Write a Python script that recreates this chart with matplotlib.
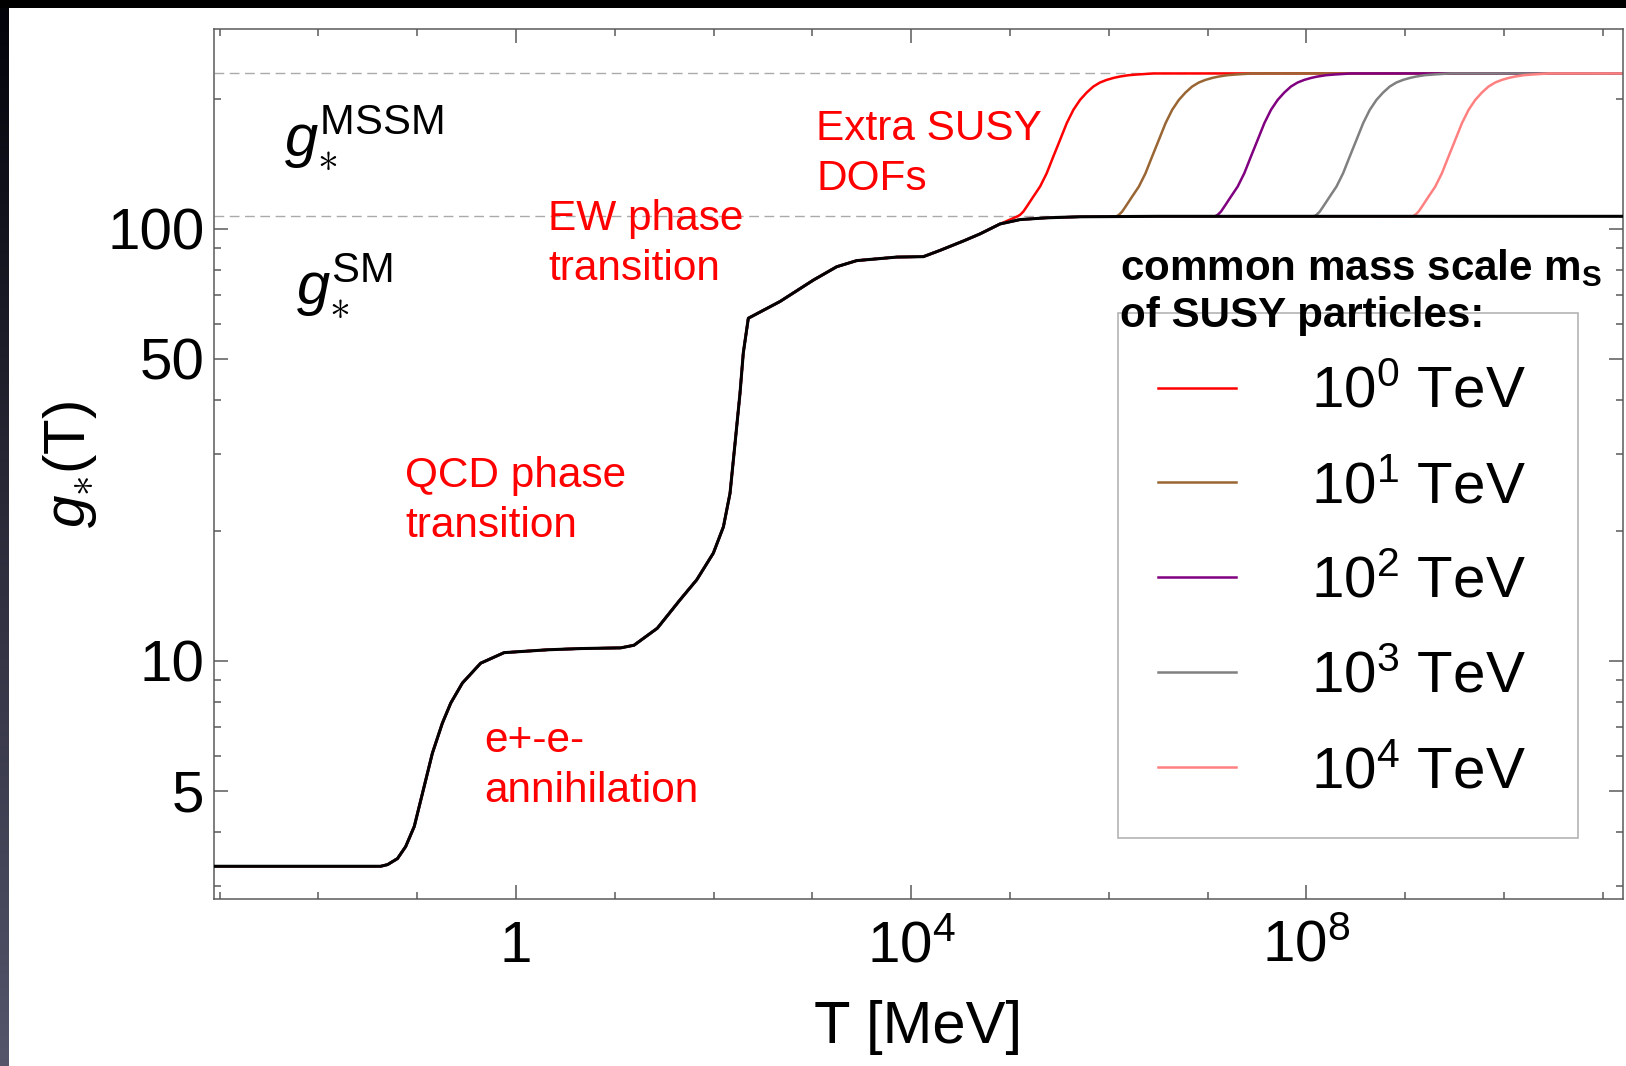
import numpy as np
import matplotlib
matplotlib.use('Agg')
import matplotlib.pyplot as plt
from matplotlib.patches import Rectangle
from matplotlib.ticker import FixedLocator, NullFormatter

plt.rcParams['font.family'] = ['Liberation Sans', 'DejaVu Sans']
plt.rcParams['mathtext.fontset'] = 'custom'
plt.rcParams['mathtext.rm'] = 'Liberation Sans'
plt.rcParams['mathtext.it'] = 'Liberation Sans:italic'
plt.rcParams['mathtext.bf'] = 'Liberation Sans:bold'

# ---------------- data ----------------
# Standard Model g_*(T); T in MeV given as log10(T)
sm_log10_T = [-3.2, -1.37, -1.30, -1.20, -1.117, -1.03, -0.93, -0.847, -0.746, -0.661,
              -0.543, -0.358, -0.121, 0.317, 0.655, 1.06, 1.194, 1.43, 1.66, 1.829,
              1.997, 2.099, 2.166, 2.217, 2.267, 2.30, 2.351, 2.672, 3.01, 3.246,
              3.448, 3.853, 4.123, 4.29, 4.528, 4.696, 4.899, 5.10, 5.37, 5.71,
              6.5, 11.5]
sm_gstar = [3.34, 3.34, 3.37, 3.48, 3.71, 4.13, 5.11, 6.10, 7.16, 7.97,
            8.87, 9.86, 10.43, 10.59, 10.66, 10.70, 10.85, 11.88, 13.82, 15.38,
            17.73, 20.4, 24.4, 31.9, 41.6, 51.5, 62.0, 67.8, 76.0, 81.6,
            84.3, 85.9, 86.1, 89.0, 93.6, 97.2, 102.5, 104.9, 105.9, 106.5,
            106.75, 106.75]

# Rise of g_* when the SUSY partners become relativistic, vs log10(T / m_S)
susy_log10_T_over_mS = [-0.93, -0.90, -0.865, -0.83, -0.764, -0.696, -0.629, -0.562, -0.494,
                        -0.426, -0.359, -0.291, -0.224, -0.157, -0.09, -0.022, 0.05, 0.113,
                        0.20, 0.282, 0.451, 5.5]
susy_gstar = [106.6, 107.5, 109.5, 112.5, 118.6, 125.1, 134.3, 146.8, 160.4,
              175.4, 188.3, 198.6, 206.5, 213.2, 217.8, 220.9, 223.3, 224.9,
              226.5, 227.3, 228.6, 228.75]

mass_scale_TeV = [1, 10, 100, 1000, 10000]
mass_labels = [r'$10^{0}$ TeV', r'$10^{1}$ TeV', r'$10^{2}$ TeV', r'$10^{3}$ TeV', r'$10^{4}$ TeV']
mass_colors = ['#ff0000', '#996633', '#800080', '#808080', '#ff8080']

g_sm_limit = 106.75
g_mssm_limit = 228.75

x_major = [1, 1e4, 1e8]
x_major_labels = ['1', r'$10^{4}$', r'$10^{8}$']
x_minor = [1e-3, 1e-2, 1e-1, 1e1, 1e2, 1e3, 1e5, 1e6, 1e7, 1e9, 1e10, 1e11]
y_major = [5, 10, 50, 100]
y_major_labels = ['5', '10', '50', '100']
y_minor = [3, 4, 6, 7, 8, 9, 20, 30, 40, 60, 70, 80, 90, 200]

annotation_lines = [  # (text, left px, baseline px)
    ('Extra SUSY', 816, 140), ('DOFs', 816, 190),
    ('EW phase', 548, 230), ('transition', 548, 280),
    ('QCD phase', 405, 487), ('transition', 405, 537),
    ('e+-e-', 484, 752), ('annihilation', 484, 802),
]

# ---------------- figure ----------------
W, H = 1626, 1066
fig = plt.figure(figsize=(W / 100, H / 100), dpi=100)
fig.patch.set_facecolor('white')


def fx(x):
    return x / W


def fy(y):
    return 1 - y / H


# dark frame remnants (left strip with gradient, top bar)
strip = fig.add_axes([0, 0, fx(9), 1])
grad = np.linspace(0, 1, 256)[:, None]
top_c = np.array([0.01, 0.01, 0.04])
bot_c = np.array([0.33, 0.33, 0.42])
img = top_c[None, None, :] * (1 - grad[:, :, None]) + bot_c[None, None, :] * grad[:, :, None]
strip.imshow(img, aspect='auto', extent=[0, 1, 0, 1])
strip.set_axis_off()
fig.add_artist(Rectangle((0, fy(8)), 1, 8 / H, transform=fig.transFigure,
                         facecolor='black', edgecolor='none'))

ax = fig.add_axes([fx(214), fy(899), fx(1623) - fx(214), fy(29) - fy(899)])
ax.set_xscale('log')
ax.set_yscale('log')
ax.set_xlim(10 ** -3.057, 10 ** 11.204)
ax.set_ylim(10 ** 0.448, 10 ** 2.462)

ax.axhline(g_sm_limit, color='#aaaaaa', lw=1.0, dashes=(7, 4), zorder=1)
ax.axhline(g_mssm_limit, color='#aaaaaa', lw=1.0, dashes=(7, 4), zorder=1)

T_sm = 10 ** np.array(sm_log10_T)
g_sm = np.array(sm_gstar)
handles = []
for m, c, lab in zip(mass_scale_TeV, mass_colors, mass_labels):
    T_rise = m * 1e6 * 10 ** np.array(susy_log10_T_over_mS)
    low = T_sm < T_rise[0]
    T = np.concatenate([T_sm[low], T_rise])
    g = np.concatenate([g_sm[low], np.array(susy_gstar)])
    h, = ax.plot(T, g, color=c, lw=1.8, label=lab, zorder=2,
                 solid_joinstyle='round')
    handles.append(h)
ax.plot(T_sm, g_sm, color='black', lw=2.2, zorder=3, solid_joinstyle='round')

for s in ax.spines.values():
    s.set_color('#5a5a5a')
    s.set_linewidth(1.1)

ax.set_xticks(x_major, x_major_labels, va='baseline')
ax.xaxis.set_minor_locator(FixedLocator(x_minor))
ax.xaxis.set_minor_formatter(NullFormatter())
ax.set_yticks(y_major, y_major_labels)
ax.yaxis.set_minor_locator(FixedLocator(y_minor))
ax.yaxis.set_minor_formatter(NullFormatter())
ax.tick_params(which='both', direction='in', top=True, right=True,
               color='#5a5a5a', width=1.1, labelsize=42)
ax.tick_params(which='major', length=10)
ax.tick_params(which='minor', length=5)
ax.tick_params(axis='x', pad=45)
ax.tick_params(axis='y', pad=7)

ax.set_xlabel('T [MeV]', fontsize=43, va='baseline')
ax.xaxis.set_label_coords(0.5, (899 - 1043) / 870)
ax.set_ylabel(r'$g_{\ast}(\mathrm{T})$', fontsize=42)
ax.yaxis.set_label_coords((99 - 214) / 1409, 0.5)

for txt, x, y in annotation_lines:
    fig.text(fx(x), fy(y), txt, color='#ff0000', fontsize=30.5, ha='left', va='baseline')

fig.text(fx(284), fy(155), r'$g_{\ast}^{\mathrm{MSSM}}$', fontsize=43, ha='left', va='baseline')
fig.text(fx(296), fy(303), r'$g_{\ast}^{\mathrm{SM}}$', fontsize=43, ha='left', va='baseline')

# legend
fig.add_artist(Rectangle((fx(1118), fy(838)), (1578 - 1118) / W, (838 - 313) / H,
                         transform=fig.transFigure, fill=False,
                         edgecolor='#b4b4b4', lw=1.2))
fig.text(fx(1120), fy(280), r'common mass scale m$_{\mathbf{S}}$', fontsize=30.3,
         fontweight='bold', ha='left', va='baseline')
fig.text(fx(1120), fy(327), 'of SUSY particles:', fontsize=30.3,
         fontweight='bold', ha='left', va='baseline')
ax.legend(handles=handles, loc='upper left', bbox_to_anchor=(fx(1158), fy(366)),
          bbox_transform=fig.transFigure, frameon=False, fontsize=42,
          handlelength=1.33, handletextpad=1.3, labelspacing=0.70,
          borderpad=0, borderaxespad=0)

fig.savefig('out.png', dpi=100)
